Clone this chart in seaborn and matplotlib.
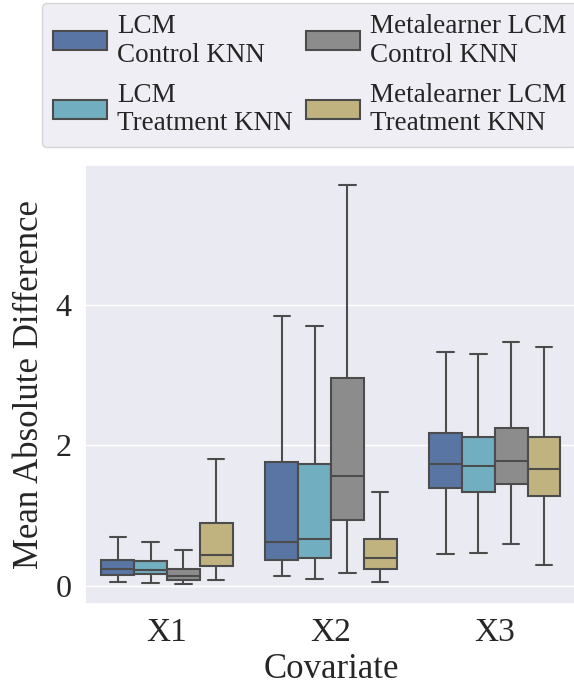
import pandas as pd
import seaborn as sns
import matplotlib.pyplot as plt

covariates = ["X1", "X2", "X3"]
methods = [
    "LCM\nControl KNN",
    "LCM\nTreatment KNN",
    "Metalearner LCM\nControl KNN",
    "Metalearner LCM\nTreatment KNN",
]

# five-number summaries: min, q1, median, q3, max
lcm_control = [
    [0.06, 0.155, 0.245, 0.37, 0.70],
    [0.14, 0.37, 0.62, 1.765, 3.84],
    [0.45, 1.39, 1.73, 2.17, 3.33],
]
lcm_treatment = [
    [0.04, 0.175, 0.225, 0.35, 0.63],
    [0.10, 0.40, 0.66, 1.73, 3.70],
    [0.47, 1.33, 1.71, 2.12, 3.30],
]
meta_control = [
    [0.025, 0.085, 0.14, 0.245, 0.51],
    [0.18, 0.94, 1.56, 2.96, 5.70],
    [0.59, 1.45, 1.77, 2.25, 3.46],
]
meta_treatment = [
    [0.085, 0.28, 0.44, 0.89, 1.81],
    [0.06, 0.245, 0.39, 0.67, 1.33],
    [0.30, 1.28, 1.66, 2.12, 3.39],
]

series = [lcm_control, lcm_treatment, meta_control, meta_treatment]
rows = []
for method, values in zip(methods, series):
    for cov, summary in zip(covariates, values):
        for v in summary:
            rows.append({"Covariate": cov, "Method": method, "Mean Absolute Difference": v})
df = pd.DataFrame(rows)

sns.set_theme(style="darkgrid")
plt.rcParams["font.family"] = ["Liberation Serif", "DejaVu Serif"]

deep = sns.color_palette("deep")
colors = [deep[0], deep[9], deep[7], deep[8]]

fig = plt.figure(figsize=(5.74, 6.86), dpi=100)
ax = fig.add_axes([0.148, 0.1195, 0.857, 0.64])

sns.boxplot(
    data=df,
    x="Covariate",
    y="Mean Absolute Difference",
    hue="Method",
    hue_order=methods,
    order=covariates,
    palette=colors,
    whis=(0, 100),
    linewidth=1.5,
    ax=ax,
)

ax.set_xlabel("Covariate", fontsize=25)
ax.set_ylabel("Mean Absolute Difference", fontsize=25, labelpad=7)
ax.tick_params(axis="x", labelsize=24)
ax.tick_params(axis="y", labelsize=23)
ax.set_yticks([0, 2, 4])

handles, labels = ax.get_legend_handles_labels()
ax.legend(
    handles, labels,
    ncol=2,
    loc="upper left",
    bbox_to_anchor=(42 / 574, 1 - 3 / 686),
    bbox_transform=fig.transFigure,
    fontsize=19.5,
    handlelength=2.0,
    handleheight=0.7,
    columnspacing=0.5,
    handletextpad=0.37,
    labelspacing=0.55,
    borderpad=0.4,
    borderaxespad=0,
)

fig.savefig("out.png", dpi=100)
